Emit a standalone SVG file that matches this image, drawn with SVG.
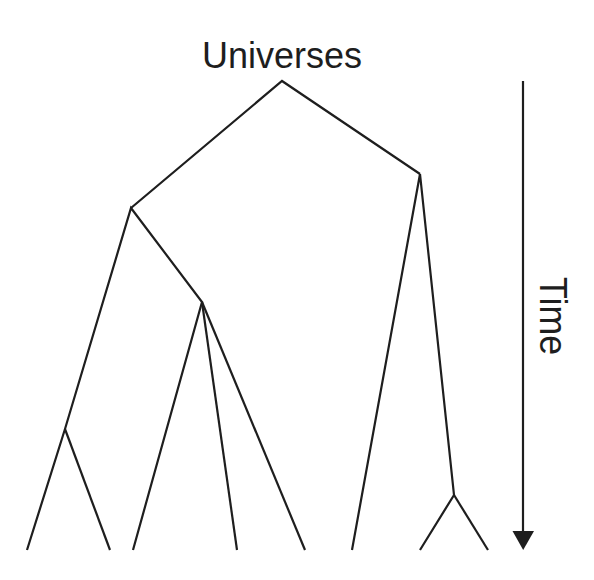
<svg xmlns="http://www.w3.org/2000/svg" width="594" height="580" viewBox="0 0 594 580">
<defs>
<style>
.l{fill:none;stroke:#1e1e1e;stroke-width:2.2;stroke-linejoin:miter}
.t{font-family:"Liberation Sans",Arial,sans-serif;fill:#1e1e1e}
</style>
</defs>
<rect width="594" height="580" fill="#fff"/>
<g id="label-universes"><text class="t" x="282" y="68" font-size="36" text-anchor="middle">Universes</text></g>
<g id="label-time"><text class="t" font-size="39" transform="translate(540,277) rotate(90)" textLength="78" lengthAdjust="spacingAndGlyphs">Time</text></g>
<g id="connectors">
<polyline class="l" points="131,208 282,81 420,174"/>
<polyline class="l" points="27,550 65,429 131,208 202,302 133,550"/>
<polyline class="l" points="65,429 110,550"/>
<polyline class="l" points="202,302 237,550"/>
<polyline class="l" points="202,302 305,550"/>
<polyline class="l" points="352,550 420,174 454,495 420,550"/>
<polyline class="l" points="454,495 488,550"/>
<line class="l" x1="523" y1="81" x2="523" y2="532"/>
<path d="M512.5,531 L534,531 L523.2,550 Z" fill="#1e1e1e"/>
</g>
</svg>
